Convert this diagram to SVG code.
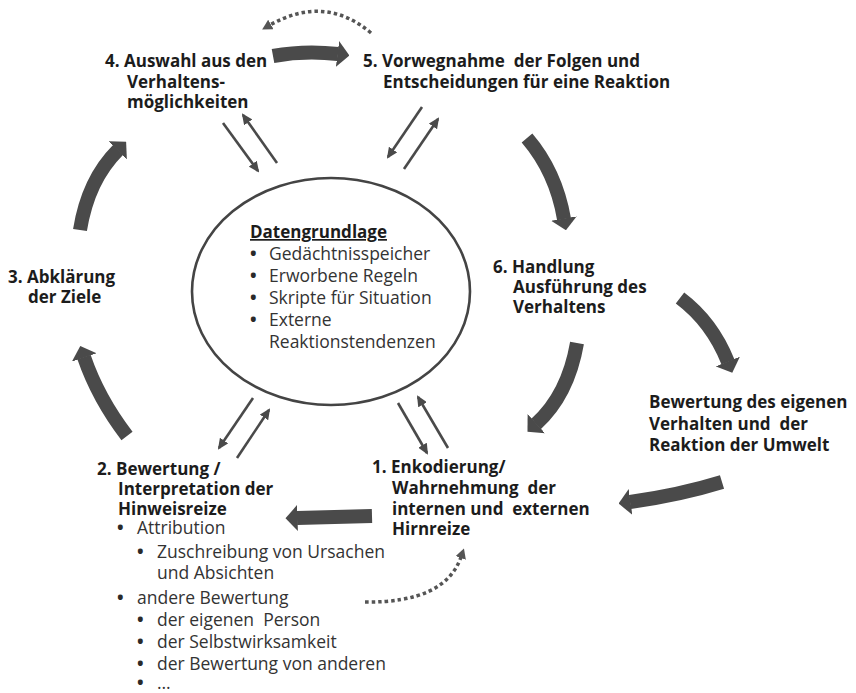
<svg xmlns="http://www.w3.org/2000/svg" width="856" height="693" viewBox="0 0 856 693">
<style>
.b{font-family:"Open Sans","DejaVu Sans",sans-serif;font-weight:700;font-size:17px;fill:#1c1c1c;white-space:pre}
.r{font-family:"Open Sans","DejaVu Sans",sans-serif;font-weight:400;font-size:17.5px;fill:#333;white-space:pre}
.u{font-family:"Open Sans","DejaVu Sans",sans-serif;font-weight:700;font-size:17.5px;fill:#2a2a2a}
.big{fill:none;stroke:#4a4a4a;stroke-width:14;marker-end:url(#bh)}
.sm{fill:none;stroke:#4a4a4a;stroke-width:2.6;marker-end:url(#sh)}
.dot{fill:none;stroke:#555;stroke-width:3.5;stroke-dasharray:3.5 3;marker-end:url(#dh)}
</style>
<defs>
<marker id="bh" markerUnits="userSpaceOnUse" viewBox="0 0 12 26" markerWidth="12" markerHeight="26" refX="0.5" refY="13" orient="auto"><path d="M0,0 L12,13 L0,26 z" fill="#4a4a4a"/></marker>
<marker id="sh" markerUnits="userSpaceOnUse" viewBox="0 0 11 10" markerWidth="11" markerHeight="10" refX="9" refY="5" orient="auto"><path d="M0,0 L11,5 L0,10 z" fill="#4a4a4a"/></marker>
<marker id="dh" markerUnits="userSpaceOnUse" viewBox="0 0 10 11" markerWidth="10" markerHeight="11" refX="1" refY="5.5" orient="auto"><path d="M0,0 L10,5.5 L0,11 z" fill="#555"/></marker>
</defs>
<rect width="856" height="693" fill="#fff"/>
<g id="connectors">
<path class="big" d="M273,56 Q305,50 338,54"/>
<path class="big" d="M527,138 Q556,172 564,219"/>
<path class="big" d="M577,343 Q568,395 536,424"/>
<path class="big" d="M680,298 Q712,322 728,362"/>
<path class="big" d="M722,482 Q680,495 630,502"/>
<path class="big" d="M372,516 Q330,517 297,518"/>
<path class="big" d="M127,436 Q98,398 84,357"/>
<path class="big" d="M80,230 Q88,180 118,150"/>
<path class="sm" d="M223,123 L258,171"/>
<path class="sm" d="M277,163 L243,115"/>
<path class="sm" d="M422,107 L388,157"/>
<path class="sm" d="M404,169 L438,119"/>
<path class="sm" d="M253,398 L219,448"/>
<path class="sm" d="M237,458 L269,410"/>
<path class="sm" d="M398,403 L427,453"/>
<path class="sm" d="M448,448 L418,397"/>
<path class="dot" d="M371,33 Q325,-6 270,25"/>
<path class="dot" d="M365,602 Q445,603 461,557"/>
</g>
<g id="datengrundlage">
<ellipse cx="331" cy="291.5" rx="139" ry="113.5" fill="none" stroke="#444" stroke-width="2.6"/>
<text class="b" x="250" y="238" text-decoration="underline">Datengrundlage</text>
<text class="u" x="250" y="260">•</text><text class="r" x="269" y="260">Gedächtnisspeicher</text>
<text class="u" x="250" y="282">•</text><text class="r" x="269" y="282">Erworbene Regeln</text>
<text class="u" x="250" y="304">•</text><text class="r" x="269" y="304">Skripte für Situation</text>
<text class="u" x="250" y="326">•</text><text class="r" x="269" y="326">Externe</text>
<text class="r" x="269" y="348">Reaktionstendenzen</text>
</g>
<g id="node4">
<text class="b" x="105" y="67">4. Auswahl aus den</text>
<text class="b" x="127" y="88">Verhaltens-</text>
<text class="b" x="127" y="108">möglichkeiten</text>
</g>
<g id="node5">
<text class="b" x="363" y="67">5. Vorwegnahme  der Folgen und</text>
<text class="b" x="383" y="88">Entscheidungen für eine Reaktion</text>
</g>
<g id="node6">
<text class="b" x="493" y="273">6. Handlung</text>
<text class="b" x="513" y="293">Ausführung des</text>
<text class="b" x="513" y="313">Verhaltens</text>
</g>
<g id="bewertung">
<text class="b" x="649" y="408">Bewertung des eigenen</text>
<text class="b" x="649" y="430">Verhalten und  der</text>
<text class="b" x="649" y="451">Reaktion der Umwelt</text>
</g>
<g id="node3">
<text class="b" x="8" y="283">3. Abklärung</text>
<text class="b" x="28" y="303">der Ziele</text>
</g>
<g id="node1">
<text class="b" x="372" y="473">1. Enkodierung/</text>
<text class="b" x="392" y="494">Wahrnehmung  der</text>
<text class="b" x="392" y="515">internen und  externen</text>
<text class="b" x="392" y="535">Hirnreize</text>
</g>
<g id="node2">
<text class="b" x="97" y="475">2. Bewertung /</text>
<text class="b" x="118" y="495">Interpretation der</text>
<text class="b" x="118" y="515">Hinweisreize</text>
<text class="u" x="117" y="534">•</text><text class="r" x="137" y="534">Attribution</text>
<text class="u" x="137" y="558">•</text><text class="r" x="157" y="558">Zuschreibung von Ursachen</text>
<text class="r" x="157" y="579">und Absichten</text>
<text class="u" x="117" y="604">•</text><text class="r" x="137" y="604">andere Bewertung</text>
<text class="u" x="137" y="626">•</text><text class="r" x="157" y="626">der eigenen  Person</text>
<text class="u" x="137" y="648">•</text><text class="r" x="157" y="648">der Selbstwirksamkeit</text>
<text class="u" x="137" y="670">•</text><text class="r" x="157" y="670">der Bewertung von anderen</text>
<text class="u" x="137" y="689">•</text><text class="r" x="157" y="689">…</text>
</g>
</svg>
